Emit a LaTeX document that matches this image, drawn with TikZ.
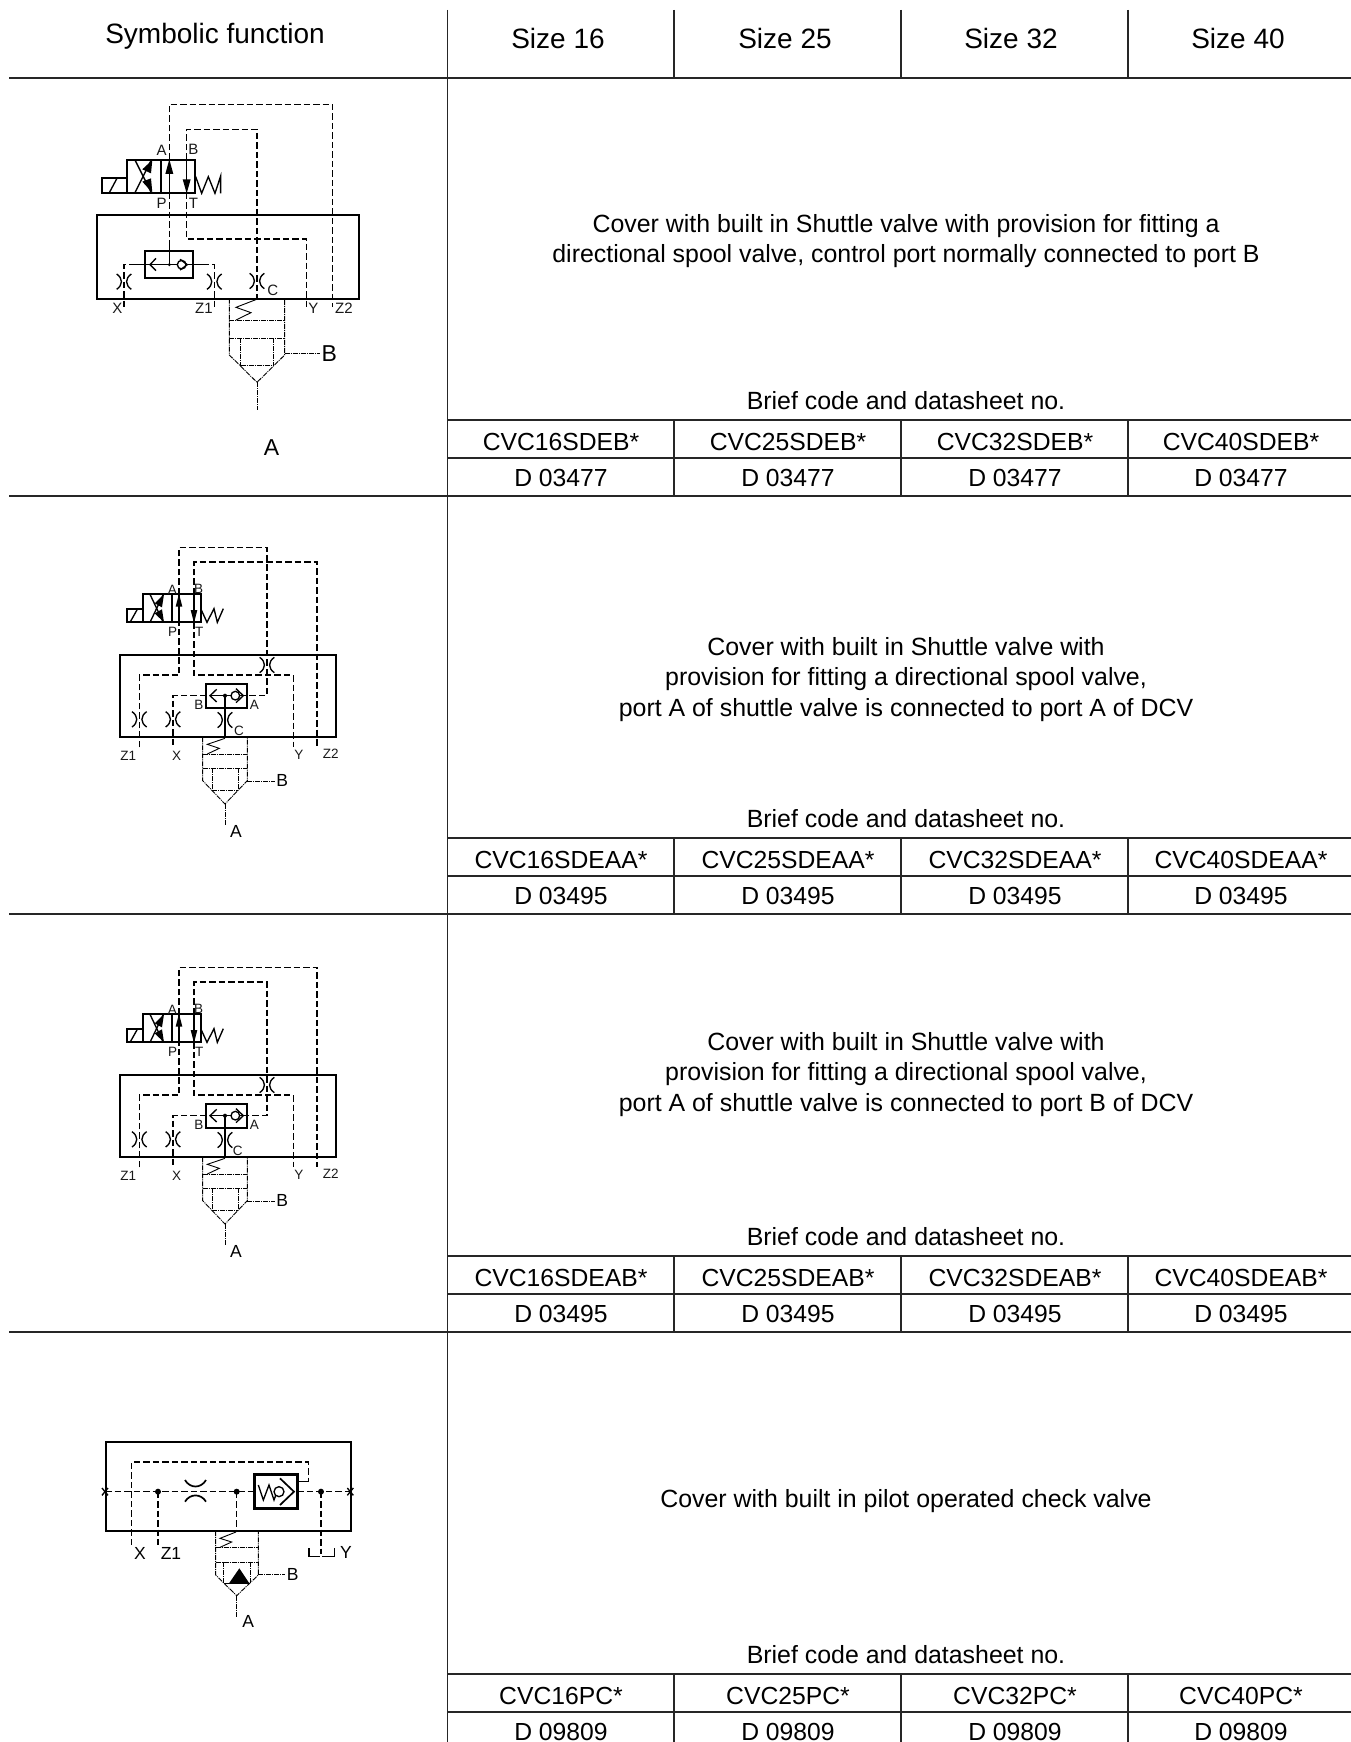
\documentclass[tikz,border=0pt]{standalone}
\usepackage{fontspec}
\setmainfont{Liberation Sans}
\tikzset{
  rule/.style={line width=1.3pt,draw=black!85},
  body/.style={line width=2pt,draw=black},
  heavybox/.style={line width=2.6pt,draw=black},
  thinln/.style={line width=1.35pt,draw=black},
  pilot/.style={line width=1.1pt,draw=black,dash pattern=on 6.5pt off 3pt},
  dashdot/.style={line width=0.9pt,draw=black,dash pattern=on 5pt off 1pt on 1pt off 1pt},
  tabtxt/.style={inner sep=0pt,font=\fontsize{24.7}{28}\selectfont,text height=18pt,text depth=0pt,text=black},
  desctxt/.style={inner sep=0pt,font=\fontsize{24.9}{28}\selectfont,text height=18pt,text depth=0pt,text=black},
  headtxt/.style={inner sep=0pt,font=\fontsize{28}{30}\selectfont,text height=20pt,text depth=0pt,text=black},
  largetxt/.style={inner sep=0pt,font=\fontsize{15}{17}\selectfont,text height=10pt,text depth=0pt,text=black!90},
  smalltxt/.style={inner sep=0pt,font=\fontsize{13.5}{16}\selectfont,text height=10pt,text depth=0pt,text=black!90},
  midtxt/.style={inner sep=0pt,font=\fontsize{17.5}{19}\selectfont,text height=12pt,text depth=0pt,text=black},
  bigtxt/.style={inner sep=0pt,font=\fontsize{23}{26}\selectfont,text height=16.5pt,text depth=0pt,text=black},
}
% throttle with vertical flow
\newcommand{\thr}[2]{\begin{scope}[shift={(#1,#2)}]
  \draw[thinln] (-22,-23) .. controls (-3,-10) and (-3,10) .. (-22,23);
  \draw[thinln] (22,-23) .. controls (3,-10) and (3,10) .. (22,23);
\end{scope}}
% grid lines of a code table: name, line shift
\newcommand{\tablines}[2]{\begin{scope}[shift={(0,#2)}]
  \draw[rule] (448,420) -- (1351,420);
  \draw[rule] (448,458) -- (1351,458);
  \draw[rule] (674,420) -- (674,496);
  \draw[rule] (901,420) -- (901,496);
  \draw[rule] (1128,420) -- (1128,496);
\end{scope}}
% texts of a code table: name, brief y, code y, data y, suffix, data sheet
\newcommand{\tabtexts}[6]{\begin{scope}[name prefix=#1-]
  \node[desctxt] (brief) at (906,#2) {Brief code and datasheet no.};
  \node[tabtxt] (c16) at (561,#3) {CVC16#5*};
  \node[tabtxt] (c25) at (788,#3) {CVC25#5*};
  \node[tabtxt] (c32) at (1015,#3) {CVC32#5*};
  \node[tabtxt] (c40) at (1241,#3) {CVC40#5*};
  \node[tabtxt] (d16) at (561,#4) {#6};
  \node[tabtxt] (d25) at (788,#4) {#6};
  \node[tabtxt] (d32) at (1015,#4) {#6};
  \node[tabtxt] (d40) at (1241,#4) {#6};
\end{scope}}
% symbol used by rows two and three (coordinates in 3x zoom units)
\newcommand{\shuttlesym}[3]{%
  \draw[body] (60,375) rectangle (708,622);
  \draw[body] (130,193) rectangle (302,277);
  \draw[body] (81,238) rectangle (130,277);
  \draw[thinln] (216,193) -- (216,277);
  \draw[thinln] (90,277) -- (112,238);
  \draw[thinln] (150,193) -- (190,277);
  \draw[thinln] (150,277) -- (190,193);
  \fill (192,193) -- (164,220) -- (186,232) -- cycle;
  \fill (192,277) -- (164,250) -- (186,238) -- cycle;
  \draw[thinln] (237,277) -- (237,193);
  \fill (237,191) -- (227,230) -- (247,230) -- cycle;
  \draw[thinln] (282,193) -- (282,277);
  \fill (282,279) -- (272,240) -- (292,240) -- cycle;
  \draw[thinln] (304,240) -- (321,277) -- (342,236) -- (352,277) -- (370,236);
  % pilot lines
  \draw[pilot] (118,652) -- (118,435) -- (237,435) -- (237,277);
  \draw[pilot] (237,193) -- (237,52) -- #2;
  \draw[pilot] (282,277) -- (282,435) -- (580,435) -- (580,652);
  \draw[pilot] (282,193) -- (282,96) -- #3;
  \draw[pilot] (318,497) -- (219,497) -- (219,652);
  % shuttle
  \draw[body] (318,463) rectangle (440,533);
  \draw[thinln] (330,497) -- (392,497);
  \draw[thinln] (350,478) -- (330,497) -- (350,516);
  \draw[thinln,fill=white] (406,497) circle (13);
  \draw[thinln] (408,476) -- (430,497) -- (408,518);
  \draw[thinln] (418,497) -- (440,497);
  \fill (375,497) circle (6);
  \draw[thinln] (375,497) -- (375,622);
  \thr{118}{568}\thr{219}{568}\thr{375}{570}\thr{501}{405}
  % cylinder
  \draw[dashdot] (308,622) -- (308,752) -- (375,822) -- (442,752) -- (442,622);
  \draw[dashdot] (308,673) -- (442,673);
  \draw[dashdot] (308,715) -- (442,715);
  \draw[dashdot] (336,715) -- (336,780);
  \draw[dashdot] (415,715) -- (415,780);
  \draw[dashdot] (336,780) -- (415,780);
  \draw[dashdot] (375,822) -- (375,885);
  \draw[dashdot] (442,755) -- (525,755);
  \draw[line width=0.9pt] (375,625) -- (322,643) -- (358,655) -- (322,672);
  % texts
  \node[smalltxt] (tA) at (217,179) {A};
  \node[smalltxt] (tB) at (296,175) {B};
  \node[smalltxt] (tP) at (218,303) {P};
  \node[smalltxt] (tT) at (298,303) {T};
  \node[smalltxt] (sB) at (297,524) {B};
  \node[smalltxt] (sA) at (463,524) {A};
  \node[smalltxt] (tC) at (#1,600) {C};
  \node[smalltxt] (tZ1) at (85,675) {Z1};
  \node[smalltxt] (tX) at (230,675) {X};
  \node[smalltxt] (tY) at (597,672) {Y};
  \node[smalltxt] (tZ2) at (692,670) {Z2};
  \node[midtxt] (tBB) at (547,752) {B};
  \node[midtxt] (tAA) at (408,903) {A};
}
\begin{document}
\begin{tikzpicture}[x=1pt,y=-1pt]
\useasboundingbox (0,0) rectangle (1351,1742);
\clip (0,0) rectangle (1351,1742);
\fill[white] (0,0) rectangle (1351,1742);
% main grid
\draw[rule] (447.5,10) -- (447.5,1742);
\draw[rule] (9,78) -- (1351,78);
\draw[rule] (9,496) -- (1351,496);
\draw[rule] (9,914) -- (1351,914);
\draw[rule] (9,1332) -- (1351,1332);
\draw[rule] (674,10) -- (674,78);
\draw[rule] (901,10) -- (901,78);
\draw[rule] (1128,10) -- (1128,78);
% header
\node[headtxt] (hsym) at (215,34) {Symbolic function};
\node[headtxt] (h16) at (558,39) {Size 16};
\node[headtxt] (h25) at (785,39) {Size 25};
\node[headtxt] (h32) at (1011,39) {Size 32};
\node[headtxt] (h40) at (1238,39) {Size 40};
% descriptions
\node[desctxt] (r1a) at (906,223) {Cover with built in Shuttle valve with provision for fitting a};
\node[desctxt] (r1b) at (906,253) {directional spool valve, control port normally connected to port B};
\node[desctxt] (r2a) at (906,646) {Cover with built in Shuttle valve with};
\node[desctxt] (r2b) at (906,676) {provision for fitting a directional spool valve,};
\node[desctxt] (r2c) at (906,707) {port A of shuttle valve is connected to port A of DCV};
\node[desctxt] (r3a) at (906,1041) {Cover with built in Shuttle valve with};
\node[desctxt] (r3b) at (906,1071) {provision for fitting a directional spool valve,};
\node[desctxt] (r3c) at (906,1102) {port A of shuttle valve is connected to port B of DCV};
\node[desctxt] (r4a) at (906,1498) {Cover with built in pilot operated check valve};
% code tables
\tablines{t1}{0}\tabtexts{t1}{400}{441}{477}{SDEB}{D 03477}
\tablines{t2}{418}\tabtexts{t2}{818}{859}{895}{SDEAA}{D 03495}
\tablines{t3}{836}\tabtexts{t3}{1236}{1277}{1313}{SDEAB}{D 03495}
\tablines{t4}{1254}\tabtexts{t4}{1654}{1695}{1731}{PC}{D 09809}
% symbol 1
\begin{scope}[name prefix=s1-,shift={(80,90)},x=0.33333pt,y=-0.33333pt]
  \draw[body] (50,376) rectangle (838,626);
  \draw[body] (140,210) rectangle (345,308);
  \draw[body] (66,263) rectangle (140,308);
  \draw[thinln] (243,210) -- (243,308);
  \draw[thinln] (88,308) -- (112,263);
  \draw[thinln] (165,210) -- (214,308);
  \draw[thinln] (165,308) -- (214,210);
  \fill (217,210) -- (187,238) -- (213,250) -- cycle;
  \fill (217,308) -- (187,275) -- (213,265) -- cycle;
  \draw[thinln] (268,308) -- (268,210);
  \fill (268,208) -- (256,252) -- (280,252) -- cycle;
  \draw[thinln] (320,210) -- (320,308);
  \fill (320,310) -- (308,268) -- (332,268) -- cycle;
  \draw[thinln] (347,260) -- (365,310) -- (385,260) -- (405,310) -- (422,258) -- (422,310);
  % pilot lines
  \draw[pilot] (268,210) -- (268,43) -- (758,43) -- (758,652);
  \draw[pilot] (320,210) -- (320,118) -- (531,118) -- (531,626);
  \draw[pilot] (268,308) -- (268,450);
  \draw[pilot] (320,308) -- (320,447) -- (680,447) -- (680,652);
  \draw[pilot] (195,524) -- (132,524) -- (132,652);
  \draw[pilot] (340,524) -- (403,524) -- (403,652);
  % shuttle
  \draw[body] (195,483) rectangle (340,564);
  \draw[thinln] (165,524) -- (292,524);
  \draw[thinln] (320,524) -- (372,524);
  \draw[thinln] (228,505) -- (210,524) -- (228,542);
  \draw[thinln,fill=white] (305,524) circle (13);
  \draw[thinln] (300,508) -- (322,524) -- (300,540);
  \fill (268,524) circle (5);
  \draw[thinln] (268,450) -- (268,524);
  \thr{132}{575}\thr{403}{575}\thr{531}{573}
  % cylinder
  \draw[dashdot] (448,626) -- (448,795) -- (531,877) -- (614,795) -- (614,626);
  \draw[dashdot] (448,690) -- (614,690);
  \draw[dashdot] (448,745) -- (614,745);
  \draw[dashdot] (482,745) -- (482,827);
  \draw[dashdot] (580,745) -- (580,827);
  \draw[dashdot] (482,827) -- (580,827);
  \draw[dashdot] (531,877) -- (531,960);
  \draw[dashdot] (614,790) -- (720,790);
  \draw[line width=0.9pt] (530,628) -- (468,652) -- (513,668) -- (468,690);
  % texts
  \node[largetxt] (tA) at (245,182) {A};
  \node[largetxt] (tB) at (340,180) {B};
  \node[largetxt] (tP) at (245,340) {P};
  \node[largetxt] (tT) at (340,340) {T};
  \node[largetxt] (tX) at (112,655) {X};
  \node[largetxt] (tZ1) at (372,655) {Z1};
  \node[largetxt] (tC) at (578,603) {C};
  \node[largetxt] (tY) at (700,655) {Y};
  \node[largetxt] (tZ2) at (792,655) {Z2};
  \node[bigtxt] (tBB) at (748,790) {B};
  \node[bigtxt] (tAA) at (575,1073) {A};
\end{scope}
% symbol 2
\begin{scope}[name prefix=s2-,shift={(100,530)},x=0.33333pt,y=-0.33333pt]
  \shuttlesym{417}{(501,52) -- (501,497) -- (440,497)}{(651,96) -- (651,652)}
\end{scope}
% symbol 3
\begin{scope}[name prefix=s3-,shift={(100,950)},x=0.33333pt,y=-0.33333pt]
  \shuttlesym{413}{(651,52) -- (651,652)}{(501,96) -- (501,497) -- (440,497)}
\end{scope}
% symbol 4
\begin{scope}[name prefix=s4-,shift={(90,1430)},x=0.33333pt,y=-0.33333pt]
  \draw[body] (47,35) rectangle (782,303);
  \draw[pilot] (45,185) -- (492,185);
  \draw[pilot] (622,185) -- (780,185);
  \draw[pilot] (124,345) -- (124,96) -- (655,96) -- (655,155);
  \draw[thinln] (655,155) -- (622,155);
  \draw[pilot] (204,185) -- (204,345);
  \draw[pilot] (440,185) -- (440,303);
  \draw[pilot] (693,185) -- (693,372);
  \draw[thinln] (657,355) -- (657,380) -- (690,380);
  \draw[thinln] (697,380) -- (733,380) -- (733,355);
  \fill (204,185) circle (9) (440,185) circle (9) (693,185) circle (9);
  \draw[thinln] (36,174) -- (54,196) (54,174) -- (36,196);
  \draw[thinln] (772,174) -- (790,196) (790,174) -- (772,196);
  \draw[line width=1.7pt] (285,150) .. controls (300,176) and (333,176) .. (348,150);
  \draw[line width=1.7pt] (285,215) .. controls (300,190) and (333,190) .. (348,215);
  \draw[heavybox] (493,133) rectangle (622,235);
  \draw[thinln] (505,165) -- (520,210) -- (537,165) -- (552,210) -- (567,170);
  \draw[thinln,fill=white] (567,185) circle (15);
  \draw[line width=1.7pt] (570,145) -- (612,185) -- (570,225);
  % cylinder
  \draw[dashdot] (377,303) -- (377,435) -- (440,497) -- (505,435) -- (505,303);
  \draw[dashdot] (377,352) -- (505,352);
  \draw[dashdot] (377,397) -- (505,397);
  \draw[dashdot] (401,397) -- (401,460);
  \draw[dashdot] (480,397) -- (480,460);
  \draw[thinln] (401,460) -- (480,460);
  \fill (417,460) -- (448,415) -- (478,460) -- cycle;
  \draw[dashdot] (440,497) -- (440,560);
  \draw[dashdot] (505,432) -- (585,432);
  \draw[line width=0.9pt] (438,306) -- (390,325) -- (425,336) -- (390,352);
  % texts
  \node[midtxt] (tX) at (150,370) {X};
  \node[midtxt] (tZ1) at (243,370) {Z1};
  \node[midtxt] (tY) at (768,367) {Y};
  \node[midtxt] (tB) at (608,432) {B};
  \node[midtxt] (tA) at (475,573) {A};
\end{scope}
\end{tikzpicture}
\end{document}
